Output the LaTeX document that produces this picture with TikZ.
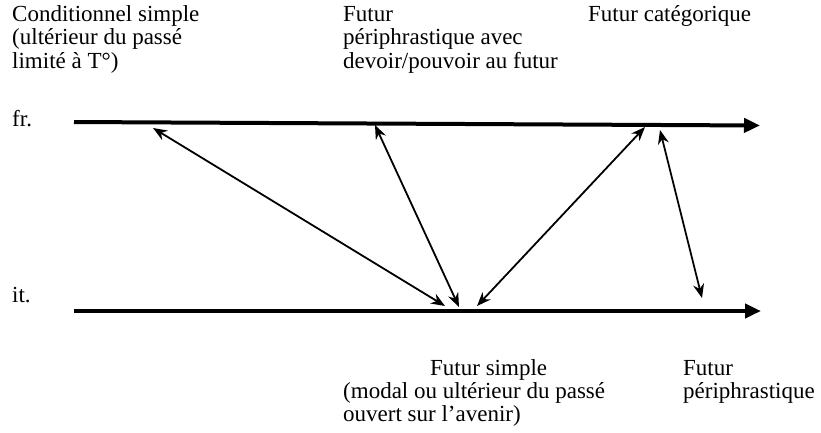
\documentclass[tikz,border=0pt]{standalone}
\usepackage{fontspec}
\setmainfont{Liberation Serif}
\usetikzlibrary{arrows.meta}
\tikzset{
  lbl/.style={anchor=base west, inner sep=0pt, font=\fontsize{23}{22}\selectfont},
  axis/.style={line width=4pt, -{Triangle[length=16pt,width=14pt]}},
  link/.style={line width=1.8pt, {Stealth[length=14pt,width=11pt]}-{Stealth[length=14pt,width=11pt]}}
}
\begin{document}
\begin{tikzpicture}[x=1pt,y=-1pt]
\useasboundingbox (0,0) rectangle (821,432);
% top labels
\node[lbl] (c1) at (12,21) {Conditionnel simple};
\node[lbl] (c2) at (12,44.5) {(ultérieur du passé};
\node[lbl] (c3) at (12,68) {limité à T°)};
\node[lbl] (p1) at (343,21) {Futur};
\node[lbl] (p2) at (343,44.5) {périphrastique avec};
\node[lbl] (p3) at (343,68) {devoir/pouvoir au futur};
\node[lbl] (fc) at (588,21) {Futur catégorique};
% axes
\node[lbl] (fr) at (12,126) {fr.};
\node[lbl] (it) at (12,302) {it.};
\coordinate (frA) at (74,122);
\coordinate (frB) at (760,125.5);
\coordinate (itA) at (74,311);
\coordinate (itB) at (761,311);
\draw[axis] (frA) -- (frB);
\draw[axis] (itA) -- (itB);
% link ends
\coordinate (f1) at (153,128);
\coordinate (f2) at (375,125);
\coordinate (f3) at (645,127);
\coordinate (f4) at (660,130);
\coordinate (i1) at (445,306);
\coordinate (i2) at (459,307);
\coordinate (i3) at (477,306);
\coordinate (i4) at (702,298);
\draw[link] (f1) -- (i1);
\draw[link] (f2) -- (i2);
\draw[link] (f3) -- (i3);
\draw[link] (f4) -- (i4);
% bottom labels
\node[lbl] (s1) at (430,375) {Futur simple};
\node[lbl] (s2) at (343,398) {(modal ou ultérieur du passé};
\node[lbl] (s3) at (343,421) {ouvert sur l’avenir)};
\node[lbl] (q1) at (683,375) {Futur};
\node[lbl] (q2) at (683,398) {périphrastique};
\end{tikzpicture}
\end{document}
